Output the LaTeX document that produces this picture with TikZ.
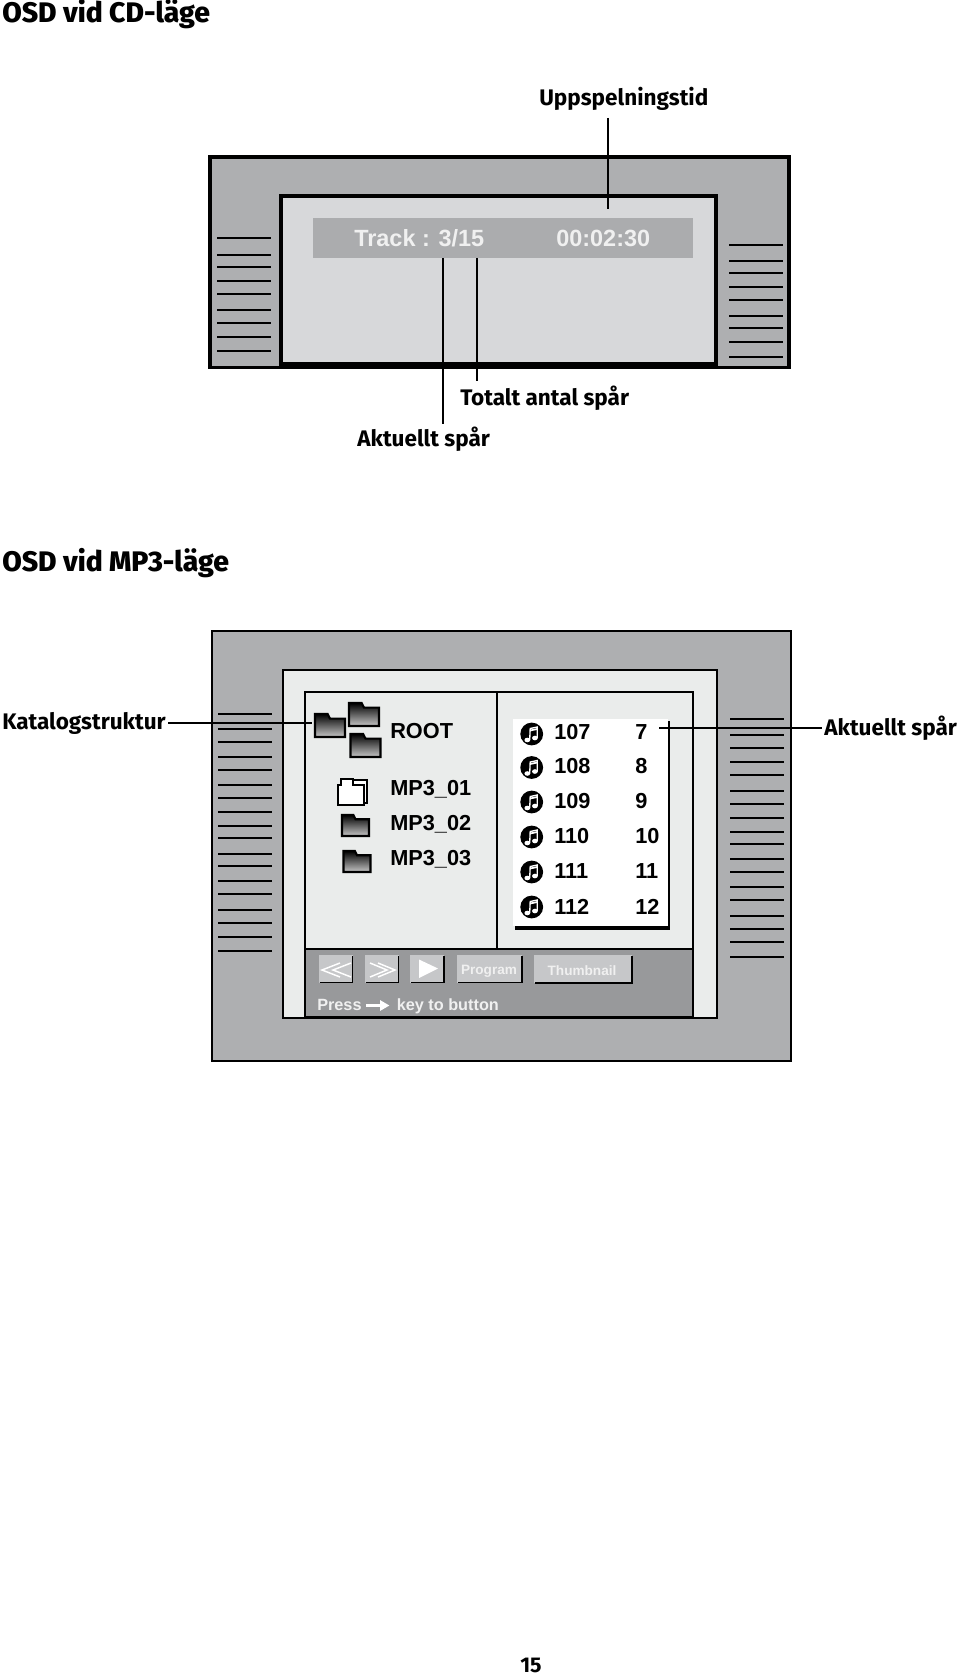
\documentclass[tikz,border=0pt]{standalone}
\usepackage{fontspec}
\setmainfont{Liberation Sans}
\newfontfamily\lblfam{Fira Sans}[BoldFont={Fira Sans Bold}]
\newfontfamily\headfam{Fira Sans ExtraBold}
\usetikzlibrary{arrows.meta}
\definecolor{framegray}{HTML}{AEAFB1}
\definecolor{screencd}{HTML}{D7D8DA}
\definecolor{barcd}{HTML}{ABACAE}
\definecolor{screenmp}{HTML}{EAECEB}
\definecolor{barmp}{HTML}{98999B}
\definecolor{btn}{HTML}{C6C7C9}
\definecolor{wtext}{HTML}{F0F0F0}
\tikzset{
  x=0.75pt,y=-0.75pt,
  frameline/.style={draw=black,line width=2.4pt},
  framethin/.style={draw=black,line width=1.9pt},
  ventline/.style={line width=2.2pt,black},
  leader/.style={line width=2.2pt,black},
  heading/.style={anchor=base west,inner sep=0pt,font=\headfam\fontsize{21.2}{21.2}\selectfont},
  callout/.style={anchor=base west,inner sep=0pt,font=\lblfam\bfseries\fontsize{16.9}{16.9}\selectfont},
  osd/.style={anchor=base west,inner sep=0pt,text=wtext,font=\bfseries\fontsize{17.6}{17.6}\selectfont},
  item/.style={anchor=base west,inner sep=0pt,font=\bfseries\fontsize{16.3}{16.3}\selectfont},
  btnlabel/.style={inner sep=0pt,text=wtext,font=\bfseries\fontsize{10.2}{10.2}\selectfont},
  presslabel/.style={anchor=base west,inner sep=0pt,text=wtext,font=\bfseries\fontsize{12.2}{12.2}\selectfont},
  folderstyle/.style={draw=black,line width=1.6pt,top color=black,bottom color=black!22},
}
\newcommand{\folderico}[4]{% x y w h
  \path[folderstyle] (#1,#2+#4) -- (#1,#2) -- (#1+0.42*#3,#2) -- (#1+0.5*#3,#2+0.2*#4) -- (#1+#3,#2+0.2*#4) -- (#1+#3,#2+#4) -- cycle;}
\newcommand{\notebtn}[3]{% x y w
  \fill[btn] (#1,#2) rectangle (#1+#3,#2+28);
  \draw[line width=1.2pt,black] (#1+1,#2+28) -- (#1+#3,#2+28) -- (#1+#3,#2+1);}
\newcommand{\musicico}[2]{% x y centre
  \fill[black] (#1,#2) circle (11.4);
  \fill[white] (#1-4.4,#2+6) ellipse (2.9 and 2.3);
  \fill[white] (#1+3.2,#2+4) ellipse (2.9 and 2.3);
  \draw[white,line width=1pt] (#1-2,#2+6) -- (#1-1.5,#2-5.5) -- (#1+5.6,#2-7) -- (#1+5.6,#2+4);
  \draw[white,line width=1.3pt] (#1-1.5,#2-3.5) -- (#1+5.6,#2-5);}
\begin{document}
\begin{tikzpicture}
\useasboundingbox (0,0) rectangle (960,1676);
\fill[white] (0,0) rectangle (960,1676);

% ---------- headings
\node[heading] (h1) at (2,22.5) {OSD vid CD-läge};
\node[heading] (h2) at (2,571) {OSD vid MP3-läge};
\node[anchor=base west,inner sep=0pt,font=\lblfam\bfseries\fontsize{16}{16}\selectfont] (pg) at (520,1672) {15};

% ---------- CD screen
\path[frameline,fill=framegray] (210,157) rectangle (789,367.5);
\path[frameline,fill=screencd] (281,196) rectangle (716,364);
\fill[barcd] (313,218) rectangle (693,258);
\node[osd] (trk) at (354,246.5) {Track : 3/15};
\node[osd] (tim) at (556,246.5) {00:02:30};
\foreach \y in {238,255,267,281,294,310,323,337,351} {\draw[ventline] (217,\y) -- (271,\y);}
\foreach \y in {245,261,273,287,300,316,328,342,357} {\draw[ventline] (729,\y) -- (783,\y);}

\node[callout] (lu) at (539,105.5) {Uppspelningstid};
\node[callout] (lt) at (460,405.5) {Totalt antal spår};
\node[callout] (la) at (357,446.5) {Aktuellt spår};
\coordinate (uT) at (608,209);
\coordinate (uS) at (608,118);
\coordinate (tT) at (477,258);
\coordinate (tE) at (477,381);
\coordinate (aT) at (443,258);
\coordinate (aE) at (443,424);
\draw[leader] (uS) -- (uT);
\draw[leader] (tT) -- (tE);
\draw[leader] (aT) -- (aE);

% ---------- MP3 screen
\path[framethin,fill=framegray] (212,631) rectangle (791,1061);
\path[framethin,fill=screenmp] (283,670) rectangle (717,1018);
\fill[barmp] (305,949) rectangle (693,1017);
\draw[framethin] (305,692) rectangle (693,1017);
\draw[line width=1.2pt] (305,949) -- (693,949);
\draw[line width=1.7pt] (497,692) -- (497,948);
\foreach \y in {714,729,742,757,770,785,798,812,826,838,854,866,881,894,910,923,937,951}
  {\draw[ventline] (218,\y) -- (272,\y);}
\foreach \y in {719,735,748,762,775,791,804,818,832,844,859,872,887,900,916,929,942,957}
  {\draw[ventline] (730,\y) -- (784,\y);}

% folders
\folderico{315}{714}{30}{23}
\folderico{349}{703}{30}{23}
\folderico{350.5}{734}{30}{23}
\folderico{342}{815}{27}{21}
\folderico{343.5}{851}{27}{21}
% open folder (outline)
\draw[line width=1.5pt,fill=white] (342,783) -- (342,780) -- (367,780) -- (367,803) -- (342,803) -- cycle;
\draw[line width=1.5pt,fill=white] (338,804.5) -- (338,785) -- (341,785) -- (341,779) -- (353,779) -- (353,785) -- (364,785) -- (364,804.5) -- cycle;

\node[item] (root) at (390,738.5) {ROOT};
\node[item] (m1) at (390,795.5) {MP3\_01};
\node[item] (m2) at (390,830) {MP3\_02};
\node[item] (m3) at (390,865.5) {MP3\_03};

% list
\fill[white] (513,719) rectangle (668,926);
\draw[line width=1.3pt] (669,721) -- (669,928);
\draw[line width=2.4pt] (515,928) -- (670,928);
\foreach \y in {734,767.5,802,837,872,907} {\musicico{531.7}{\y}}
\foreach \y/\a/\b in {739.5/107/7,773.5/108/8,808.5/109/9,843.5/110/10,878.5/111/11,914/112/12}{
  \node[item] (n\a) at (554,\y) {\a};
  \node[item] (c\a) at (635,\y) {\b};
}

% buttons
\notebtn{318.5}{954.5}{34}
\notebtn{364.5}{954.5}{34}
\notebtn{410}{954.5}{34}
\notebtn{457}{954.5}{65}
\notebtn{534}{955}{98}
\draw[line width=1.1pt,white] (340,963) -- (322,970) -- (340,977);
\draw[line width=1.1pt,white] (351,963) -- (333,970) -- (351,977);
\draw[line width=1.1pt,white] (370,963) -- (387,970) -- (370,977);
\draw[line width=1.1pt,white] (378,963) -- (395,970) -- (378,977);
\fill[white] (419,959.5) -- (438,968.5) -- (419,978) -- cycle;
\node[btnlabel] (bp) at (489,971) {Program};
\node[btnlabel] (bt) at (582,970.5) {Thumbnail};
\node[presslabel] (pr) at (317,1010.5) {Press};
\node[presslabel] (pk) at (396.5,1010.5) {key to button};
\coordinate (ar1) at (366,1005.5);
\coordinate (ar2) at (389.5,1005.5);
\draw[white,line width=2.2pt,-{Triangle[length=7pt,width=7.5pt]}] (ar1) -- (ar2);

% callouts
\node[callout] (lk) at (2,729) {Katalogstruktur};
\node[callout] (lc) at (824,735) {Aktuellt spår};
\coordinate (kL) at (168,723);
\coordinate (kR) at (312,723);
\coordinate (cL) at (659,728);
\coordinate (cR) at (822,728);
\draw[leader] (kL) -- (kR);
\draw[leader] (cL) -- (cR);
\end{tikzpicture}
\end{document}
